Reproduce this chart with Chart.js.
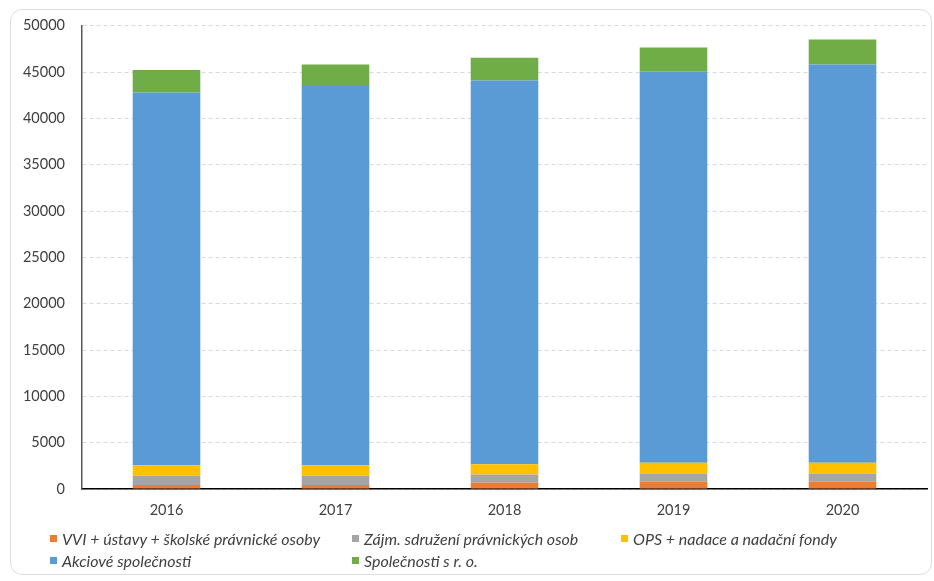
<!DOCTYPE html>
<html>
<head>
<meta charset="utf-8">
<script src="https://cdn.jsdelivr.net/npm/chart.js@4"></script>
<style>
  html, body { margin: 0; padding: 0; background: #fff; }
  #wrap { position: relative; width: 934px; height: 581px; overflow: hidden; }
  #frame { position: absolute; left: 10px; top: 9px; width: 920px; height: 564px;
           border: 1px solid #dedede; border-radius: 12px; }
  #chart { position: absolute; left: 0; top: 0; }
  #legend { position: absolute; left: 50px; top: 527px; display: grid;
            grid-template-columns: 302px 269px auto;
            font-family: Lato, "Open Sans", sans-serif; font-style: italic;
            font-size: 16px; color: #404040; }
  #legend span.item { display: flex; align-items: center; height: 22px; white-space: nowrap; }
  #legend i { display: inline-block; width: 7px; height: 7px; margin-right: 5px; }
</style>
</head>
<body>
<div id="wrap">
  <div id="frame"></div>
  <canvas id="chart" width="934" height="581"></canvas>
  <div id="legend"></div>
</div>
<script>
var years = ['2016', '2017', '2018', '2019', '2020'];
var seriesNames = [
    'VVI + ústavy + školské právnické osoby',
    'Zájm. sdružení právnických osob',
    'OPS + nadace a nadační fondy',
    'Akciové společnosti',
    'Společnosti s r. o.'
];
var vvi = [430, 430, 670, 780, 800];
var zajm = [990, 990, 900, 900, 880];
var ops = [1150, 1150, 1110, 1140, 1140];
var akciove = [40230, 40930, 41400, 42220, 43000];
var sro = [2410, 2320, 2460, 2600, 2680];
var colors = ['#ED7D31', '#A5A5A5', '#FFC000', '#5B9BD5', '#70AD47'];
var yTicks = [0, 5000, 10000, 15000, 20000, 25000, 30000, 35000, 40000, 45000, 50000];

var values = [vvi, zajm, ops, akciove, sro];
var datasets = [];
for (var i = 0; i < values.length; i++) {
    datasets.push({
        label: seriesNames[i],
        data: values[i],
        backgroundColor: colors[i],
        borderWidth: 0,
        barPercentage: 0.4,
        categoryPercentage: 1
    });
}

// legend laid out like the original: three columns, two rows
var legend = document.getElementById('legend');
for (var j = 0; j < seriesNames.length; j++) {
    var item = document.createElement('span');
    item.className = 'item';
    item.innerHTML = '<i style="background:' + colors[j] + '"></i>' + seriesNames[j];
    legend.appendChild(item);
}

new Chart(document.getElementById('chart').getContext('2d'), {
    type: 'bar',
    data: { labels: years, datasets: datasets },
    options: {
        responsive: false,
        animation: false,
        layout: { padding: { top: 22, right: 7, left: 0, bottom: 0 } },
        plugins: { legend: { display: false }, tooltip: { enabled: false } },
        scales: {
            x: {
                stacked: true,
                grid: { display: false, drawTicks: false },
                border: { color: '#000', width: 1.5 },
                ticks: { color: '#404040', padding: 13, font: { family: 'Lato', size: 14.5 } },
                afterFit: function(scale) { scale.height = 92; }
            },
            y: {
                stacked: true,
                min: 0,
                max: 50000,
                afterBuildTicks: function(scale) {
                    scale.ticks = yTicks.map(function(v) { return { value: v }; });
                },
                grid: { color: '#d9d9d9', drawTicks: false },
                border: { color: '#595959', width: 1.5, dash: [4, 3] },
                ticks: { color: '#404040', padding: 17, font: { family: 'Lato', size: 14.5 },
                         callback: function(v) { return String(v); } },
                afterFit: function(scale) { scale.width = 82; }
            }
        }
    }
});
</script>
</body>
</html>
